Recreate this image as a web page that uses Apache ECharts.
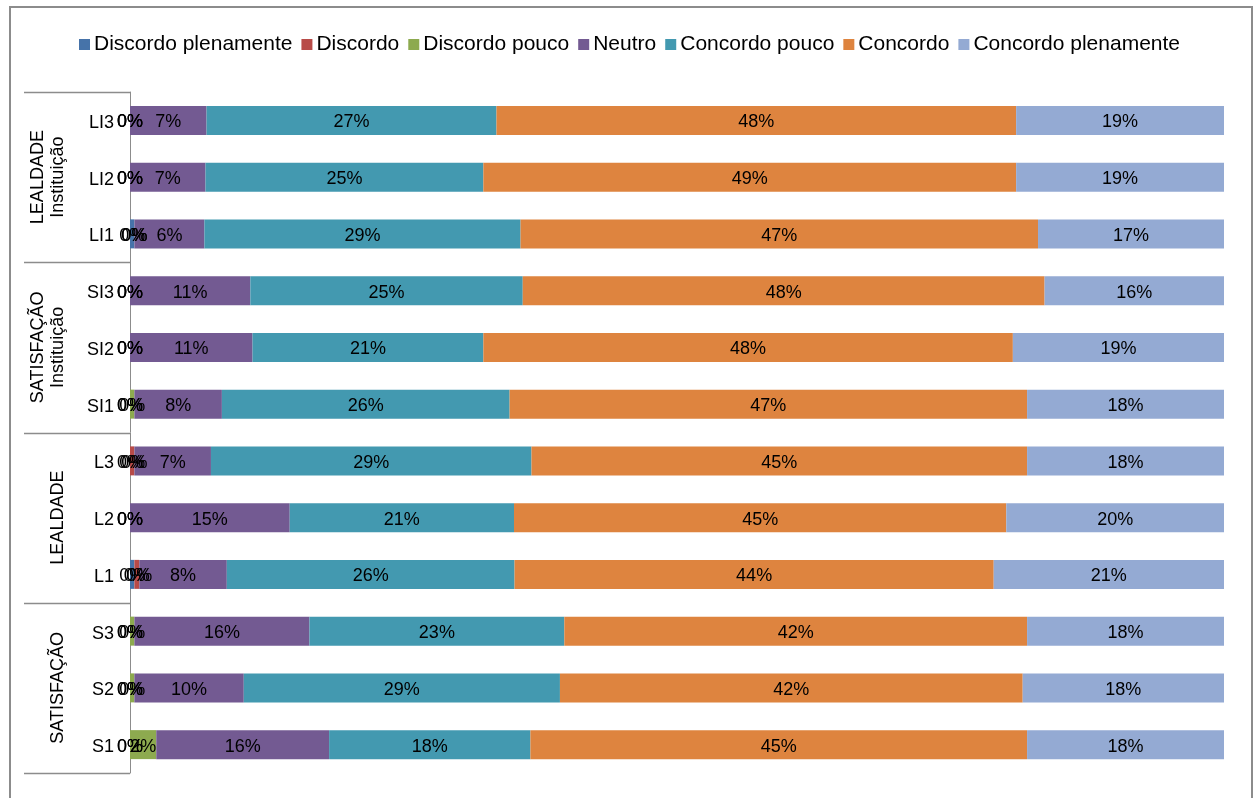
<!DOCTYPE html>
<html>
<head>
<meta charset="utf-8">
<script src="https://cdn.jsdelivr.net/npm/echarts@6/dist/echarts.min.js"></script>
<style>
html,body{margin:0;padding:0;background:#fff;}
#chart{width:1259px;height:798px;}
</style>
</head>
<body>
<div id="chart"></div>
<script>
// Categories (bottom to top)
const categories = ['S1','S2','S3','L1','L2','L3','SI1','SI2','SI3','LI1','LI2','LI3'];
const seriesNames = ['Discordo plenamente','Discordo','Discordo pouco','Neutro','Concordo pouco','Concordo','Concordo plenamente'];
// Values in percent, same order as categories
const discordoPlenamente = [0,   0,   0,   0.4, 0,   0,   0,   0,   0,   0.4, 0,   0  ];
const discordo           = [0,   0,   0,   0.45,0,   0.4, 0,   0,   0,   0,   0,   0  ];
const discordoPouco      = [2.4, 0.4, 0.4, 0,   0,   0,   0.4, 0,   0,   0,   0,   0  ];
const neutro             = [15.8,10.0,16.0,8.0, 14.6,7.0, 8.0, 11.2,11.0,6.4, 6.9, 7.0];
const concordoPouco      = [18.4,28.9,23.3,26.3,20.5,29.3,26.3,21.1,24.9,28.9,25.4,26.5];
const concordo           = [45.4,42.3,42.3,43.8,45.0,45.3,47.3,48.4,47.7,47.3,48.7,47.5];
const concordoPlenamente = [18.0,18.4,18.0,21.05,19.9,18.0,18.0,19.3,16.4,17.0,19.0,19.0];
const groups = [
  {label:'SATISFAÇÃO', from:0, to:2},
  {label:'LEALDADE', from:3, to:5},
  {label:'SATISFAÇÃO\nInstituição', from:6, to:8},
  {label:'LEALDADE\nInstituição', from:9, to:11}
];

const colors = ['#4673A9','#B84B48','#8DAA4F','#735A92','#4399B0','#DE843F','#94AAD3'];
const seriesData = [discordoPlenamente, discordo, discordoPouco, neutro, concordoPouco, concordo, concordoPlenamente];
const FONT = '"Liberation Sans", Arial, sans-serif';

const chart = echarts.init(document.getElementById('chart'));
const option = {
  animation: false,
  color: colors,
  legend: {
    top: 29,
    left: 'center',
    itemWidth: 11,
    itemHeight: 11,
    itemGap: 9,
    icon: 'rect',
    textStyle: {fontFamily: FONT, fontSize: 21, color: '#000', padding:[0,0,0,-1]},
    data: seriesNames
  },
  grid: {left: 130, right: 35, top: 92, bottom: 25, containLabel: false},
  xAxis: {
    type: 'value', min: 0, max: 100, show: false,
    splitLine: {show: false}
  },
  yAxis: {
    type: 'category',
    data: categories,
    axisLine: {show: true, lineStyle: {color: '#8c8c8c', width: 1}},
    axisTick: {show: false},
    axisLabel: {
      fontFamily: FONT, fontSize: 18, color: '#000', margin: 16,
      formatter: v => '{a|' + v + '}',
      rich: {a: {fontFamily: FONT, fontSize: 18, color: '#000', padding: [5, 0, 0, 0]}}
    }
  },
  series: seriesNames.map((name, i) => ({
    name: name,
    type: 'bar',
    stack: 'total',
    barWidth: 29,
    data: seriesData[i],
    label: {
      show: true,
      position: 'inside',
      offset: [0, 2],
      fontFamily: FONT,
      fontSize: 18,
      color: '#000',
      formatter: p => Math.round(p.value) + '%'
    }
  }))
};
chart.setOption(option);

// Build group labels and separators from the category axis
const c0 = chart.convertToPixel({yAxisIndex: 0}, categories[0]);
const c1 = chart.convertToPixel({yAxisIndex: 0}, categories[1]);
const band = Math.abs(c0 - c1);
const graphics = [];
graphics.push({
  type: 'rect', shape: {x: 10, y: 7, width: 1242, height: 830},
  style: {fill: 'none', stroke: '#8c8c8c', lineWidth: 2}, z: 0
});
const boundaries = new Set();
groups.forEach(g => {
  const yBottom = chart.convertToPixel({yAxisIndex: 0}, categories[g.from]) + band / 2;
  const yTop = chart.convertToPixel({yAxisIndex: 0}, categories[g.to]) - band / 2;
  boundaries.add(Math.round(yBottom));
  boundaries.add(Math.round(yTop));
  const lines = g.label.split('\n').length;
  graphics.push({
    type: 'text',
    x: 58 - (lines - 1) * 10,
    y: (yTop + yBottom) / 2,
    rotation: Math.PI / 2,
    style: {
      text: g.label, fontFamily: FONT, fontSize: 18, fill: '#000',
      align: 'center', verticalAlign: 'middle', lineHeight: 20
    }
  });
});
boundaries.forEach(y => {
  graphics.push({
    type: 'line', shape: {x1: 24, y1: y + 0.5, x2: 130, y2: y + 0.5},
    style: {stroke: '#8c8c8c', lineWidth: 1.5}
  });
});
chart.setOption({graphic: graphics});
</script>
</body>
</html>
